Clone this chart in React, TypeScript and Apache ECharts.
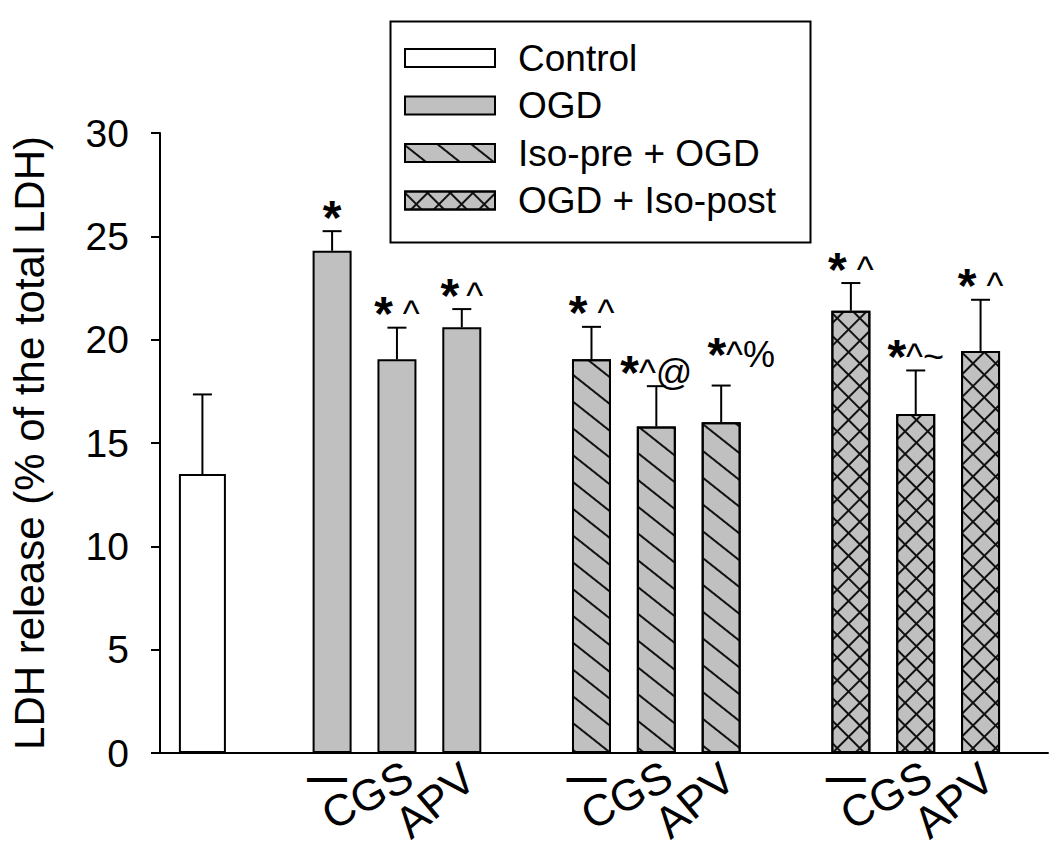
import { useEffect, useRef } from "react";
import * as echarts from "echarts";

// ---- data ----
const seriesNames = ["Control", "OGD", "Iso-pre + OGD", "OGD + Iso-post"];
const treatments = ["—", "CGS", "APV"];
const controlMean = [13.5];
const controlErr = [3.85];
const ogdMean = [24.3, 19.05, 20.6];
const ogdErr = [0.95, 1.53, 0.88];
const isoPreMean = [19.05, 15.8, 16.0];
const isoPreErr = [1.57, 1.95, 1.78];
const isoPostMean = [21.4, 16.4, 19.45];
const isoPostErr = [1.34, 2.11, 2.48];
const controlMarks = [""];
const ogdMarks = ["*", "* ^", "*^"];
const isoPreMarks = ["* ^", "*^@", "*^%"];
const isoPostMarks = ["* ^", "*^~", "* ^"];
const yMin = 0;
const yMax = 30;
const yStep = 5;
const yAxisTitle = "LDH release (% of the total LDH)";

const FONT = "'Liberation Sans', Arial, Helvetica, sans-serif";

const groups = [
  { name: seriesNames[0], mean: controlMean, err: controlErr, marks: controlMarks },
  { name: seriesNames[1], mean: ogdMean, err: ogdErr, marks: ogdMarks },
  { name: seriesNames[2], mean: isoPreMean, err: isoPreErr, marks: isoPreMarks },
  { name: seriesNames[3], mean: isoPostMean, err: isoPostErr, marks: isoPostMarks },
];

// slot index on x: control at 0, then each group of 3 after one empty slot
function slotOf(g: number, i: number) {
  return g === 0 ? 0 : 2 + (g - 1) * 4 + i;
}

const stripeDecal = {
  symbol: "rect",
  symbolSize: 1,
  dashArrayX: [1, 0],
  dashArrayY: [2, 19],
  rotation: 0.67,
  color: "#111",
};
const crossDecal = {
  symbol: "rect",
  symbolSize: 1,
  dashArrayX: [[1, 0], [2, 14]],
  dashArrayY: [2, 0, 14, 0],
  rotation: Math.PI / 4,
  color: "#111",
};

const fills = ["#ffffff", "#c0c0c0", "#c0c0c0", "#c0c0c0"];
const decals: any[] = [null, null, stripeDecal, crossDecal];
const widths = [47, 39, 39, 39];
// style-only nudges of some significance marks, as in the original figure
const markShift: Record<string, [number, number]> = { "*^%": [20, -17] };

const X_MIN = -0.654;
const X_MAX = 13.04;

export default function App() {
  const ref = useRef<HTMLDivElement>(null);
  useEffect(() => {
    if (!ref.current) return;
    const chart = echarts.init(ref.current, undefined, { renderer: "svg" });

    const barSeries = groups.map((g, gi) => ({
      type: "bar",
      name: g.name,
      xAxisIndex: gi === 0 ? 1 : 0,
      barWidth: widths[gi],
      barGap: "-100%",
      data: g.mean.map((v, i) => [slotOf(gi, i), v]),
      itemStyle: {
        color: fills[gi],
        borderColor: "#000",
        borderWidth: 2,
        ...(decals[gi] ? { decal: decals[gi] } : {}),
      },
      z: 2,
    }));

    const errData: any[] = [];
    groups.forEach((g, gi) =>
      g.mean.forEach((v, i) => errData.push([slotOf(gi, i), v, g.err[i], g.marks[i]]))
    );

    const labelData: any[] = [];
    groups.forEach((g, gi) => {
      if (gi === 0) return;
      treatments.forEach((t, i) => labelData.push([slotOf(gi, i), i, t]));
    });

    const errorSeries = {
      type: "custom",
      name: "err",
      z: 5,
      data: errData,
      renderItem: (params: any, api: any) => {
        const x = api.value(0);
        const m = api.value(1);
        const e = api.value(2);
        const mark = errData[params.dataIndex][3] as string;
        const p0 = api.coord([x, m]);
        const p1 = api.coord([x, m + e]);
        const children: any[] = [
          { type: "line", shape: { x1: p0[0], y1: p0[1], x2: p1[0], y2: p1[1] }, style: { stroke: "#000", lineWidth: 2 } },
          { type: "line", shape: { x1: p1[0] - 9.5, y1: p1[1], x2: p1[0] + 9.5, y2: p1[1] }, style: { stroke: "#000", lineWidth: 2 } },
        ];
        if (mark) {
          let rest = mark.slice(1);
          if (rest === "^") rest = "\u2009^";
          const sh = markShift[mark] || [0, 0];
          children.push({
            type: "text",
            x: p1[0] + sh[0],
            y: p1[1] + 8 + sh[1],
            style: {
              text: "{s|*}" + (rest ? "{r|" + rest + "}" : ""),
              align: "center",
              verticalAlign: "bottom",
              rich: {
                s: { fontSize: 48, fontWeight: "bold", fontFamily: FONT, fill: "#000", lineHeight: 44 },
                r: { fontSize: 36, fontFamily: FONT, fill: "#000", lineHeight: 44 },
              },
            },
          });
        }
        return { type: "group", children };
      },
    };

    const labelStyles = [
      { dx: -5, dy: 24, rot: 0, weight: "bold", size: 40 },
      { dx: -30, dy: 42, rot: 28, weight: "normal", size: 44 },
      { dx: -27, dy: 47, rot: 40, weight: "normal", size: 44 },
    ];

    const labelSeries = {
      type: "custom",
      name: "xlabels",
      z: 5,
      silent: true,
      data: labelData,
      renderItem: (params: any, api: any) => {
        const x = api.value(0);
        const k = api.value(1);
        const text = labelData[params.dataIndex][2];
        const p = api.coord([x, yMin]);
        const st = labelStyles[k];
        return {
          type: "text",
          x: p[0] + st.dx,
          y: p[1] + st.dy,
          rotation: (st.rot * Math.PI) / 180,
          style: {
            text,
            align: "center",
            verticalAlign: "middle",
            fontSize: st.size,
            fontWeight: st.weight,
            fontFamily: FONT,
            fill: "#000",
          },
        };
      },
    };

    chart.setOption({
      animation: false,
      backgroundColor: "#ffffff",
      textStyle: { fontFamily: FONT },
      grid: { left: 158, right: 2, top: 133, bottom: 107, containLabel: false },
      legend: {
        data: seriesNames,
        orient: "vertical",
        left: 404,
        top: 38,
        padding: 0,
        itemWidth: 90,
        itemHeight: 18,
        itemGap: 7.5,
        icon: "rect",
        selectedMode: false,
        textStyle: { fontSize: 37, color: "#000", fontFamily: FONT, lineHeight: 40, padding: [0, 0, 0, 18] },
      },
      graphic: [
        {
          type: "rect",
          left: 388,
          top: 19,
          shape: { width: 420, height: 221 },
          style: { fill: "none", stroke: "#000", lineWidth: 2 },
          z: 10,
        },
      ],
      xAxis: [
        {
          type: "value",
          min: X_MIN,
          max: X_MAX,
          axisLine: { show: true, onZero: false, lineStyle: { color: "#000", width: 2 } },
          axisTick: { show: false },
          axisLabel: { show: false },
          splitLine: { show: false },
        },
        {
          type: "value",
          min: X_MIN,
          max: X_MAX,
          show: false,
          position: "bottom",
        },
      ],
      yAxis: {
        type: "value",
        min: yMin,
        max: yMax,
        interval: yStep,
        name: yAxisTitle,
        nameLocation: "middle",
        nameGap: 110,
        nameTextStyle: { fontSize: 42, color: "#000", fontFamily: FONT },
        axisLine: { show: true, onZero: false, lineStyle: { color: "#000", width: 2 } },
        axisTick: { show: true, length: 9, lineStyle: { color: "#000", width: 2 } },
        axisLabel: { fontSize: 39, color: "#000", margin: 31, fontFamily: FONT },
        splitLine: { show: false },
      },
      series: [...barSeries, errorSeries, labelSeries],
    });
    return () => chart.dispose();
  }, []);
  return (
    <div
      ref={ref}
      style={{ position: "absolute", left: 0, top: 0, width: 1050, height: 860, background: "#fff" }}
    />
  );
}
